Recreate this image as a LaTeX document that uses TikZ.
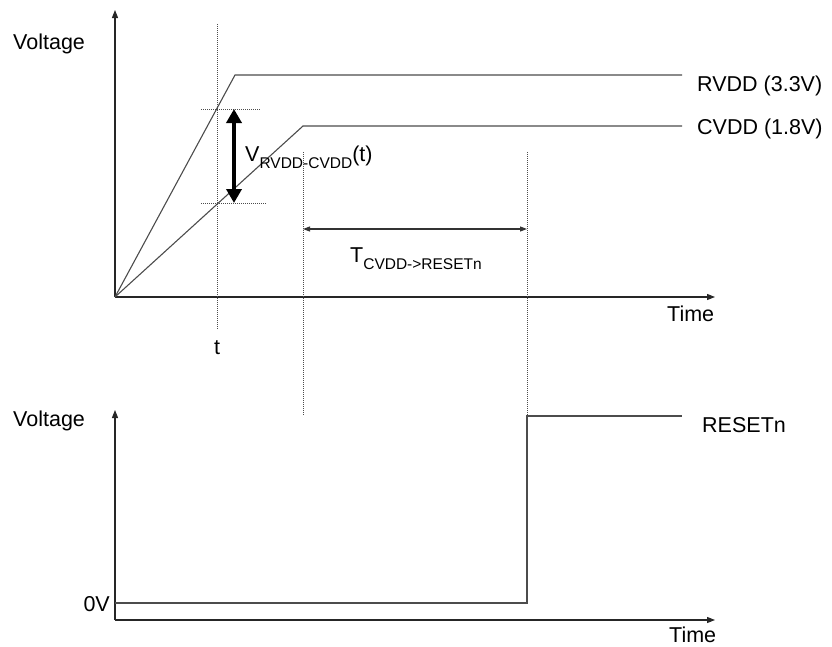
\documentclass[tikz,border=0pt]{standalone}
\usepackage{fontspec}
\setmainfont{Liberation Sans}
\usetikzlibrary{arrows.meta}
\newcommand{\subtxt}[1]{\raisebox{-7pt}{\fontsize{15.5}{17}\selectfont #1}}
\begin{document}
\begin{tikzpicture}[x=1pt,y=-1pt,
  lbl/.style={inner sep=0pt,font=\fontsize{21.5}{24}\selectfont},
  axis/.style={line width=1.1pt,black!85,-{Triangle[length=8pt,width=6pt]}},
  sig/.style={line width=1.1pt,black!70},
  dotline/.style={line width=0.9pt,black!70,dash pattern=on 1pt off 1pt},
  thickarr/.style={line width=4pt,black,{Triangle[length=14pt,width=15pt]}-{Triangle[length=14pt,width=15pt]}},
  thinarr/.style={line width=1.1pt,black!80,{Triangle[length=7pt,width=5pt]}-{Triangle[length=7pt,width=5pt]}}]
\useasboundingbox (0,0) rectangle (832,646);
% coordinates
\coordinate (o1) at (115,297);
\coordinate (ytop1) at (115,10);
\coordinate (xend1) at (715,297);
\coordinate (rk) at (235,75);
\coordinate (rend) at (682,75);
\coordinate (ck) at (303,126);
\coordinate (cend) at (682,126);
\coordinate (tt) at (217,24);
\coordinate (tb) at (217,330);
\coordinate (h1a) at (201,109);
\coordinate (h1b) at (261,109);
\coordinate (h2a) at (201,203);
\coordinate (h2b) at (267,203);
\coordinate (va) at (234,109);
\coordinate (vb) at (234,203);
\coordinate (d1t) at (303,152);
\coordinate (d1b) at (303,416);
\coordinate (d2t) at (527,152);
\coordinate (d2b) at (527,416);
\coordinate (ta) at (303,229);
\coordinate (tb2) at (527,229);
\coordinate (o2) at (115,620);
\coordinate (ytop2) at (115,410);
\coordinate (xend2) at (715,620);
\coordinate (z0) at (115,603);
\coordinate (z1) at (527,603);
\coordinate (rsend) at (682,416);
% top axes
\draw[axis] (o1) -- (ytop1);
\draw[axis] (o1) -- (xend1);
% signals
\draw[sig] (o1) -- (rk) -- (rend);
\draw[sig] (o1) -- (ck) -- (cend);
% dotted guides
\draw[dotline] (tt) -- (tb);
\draw[dotline] (h1a) -- (h1b);
\draw[dotline] (h2a) -- (h2b);
\draw[dotline] (d1t) -- (d1b);
\draw[dotline] (d2t) -- (d2b);
% arrows
\draw[thickarr] (va) -- (vb);
\draw[thinarr] (ta) -- (tb2);
% bottom axes
\draw[axis] (o2) -- (ytop2);
\draw[axis] (o2) -- (xend2);
\draw[sig] (z0) -- (z1) -- (d2b) -- (rsend);
% labels
\node[lbl,anchor=base west] (volt1) at (13,49) {Voltage};
\node[lbl,anchor=base west] (volt2) at (13,426) {Voltage};
\node[lbl,anchor=base west] (rvdd) at (697,91) {RVDD (3.3V)};
\node[lbl,anchor=base west] (cvdd) at (697,134) {CVDD (1.8V)};
\node[lbl,anchor=base west] (time1) at (667,321) {Time};
\node[lbl,anchor=base west] (time2) at (669,642) {Time};
\node[lbl,anchor=base west] (rst) at (702,432) {RESETn};
\node[lbl,anchor=base east] (zv) at (110,611) {0V};
\node[lbl,anchor=base] (tl) at (217,354) {t};
\node[lbl,anchor=base west] (vlab) at (245,161) {V\subtxt{RVDD-CVDD}(t)};
\node[lbl,anchor=base west] (tlab) at (350,262) {T\subtxt{CVDD->RESETn}};
\end{tikzpicture}
\end{document}
